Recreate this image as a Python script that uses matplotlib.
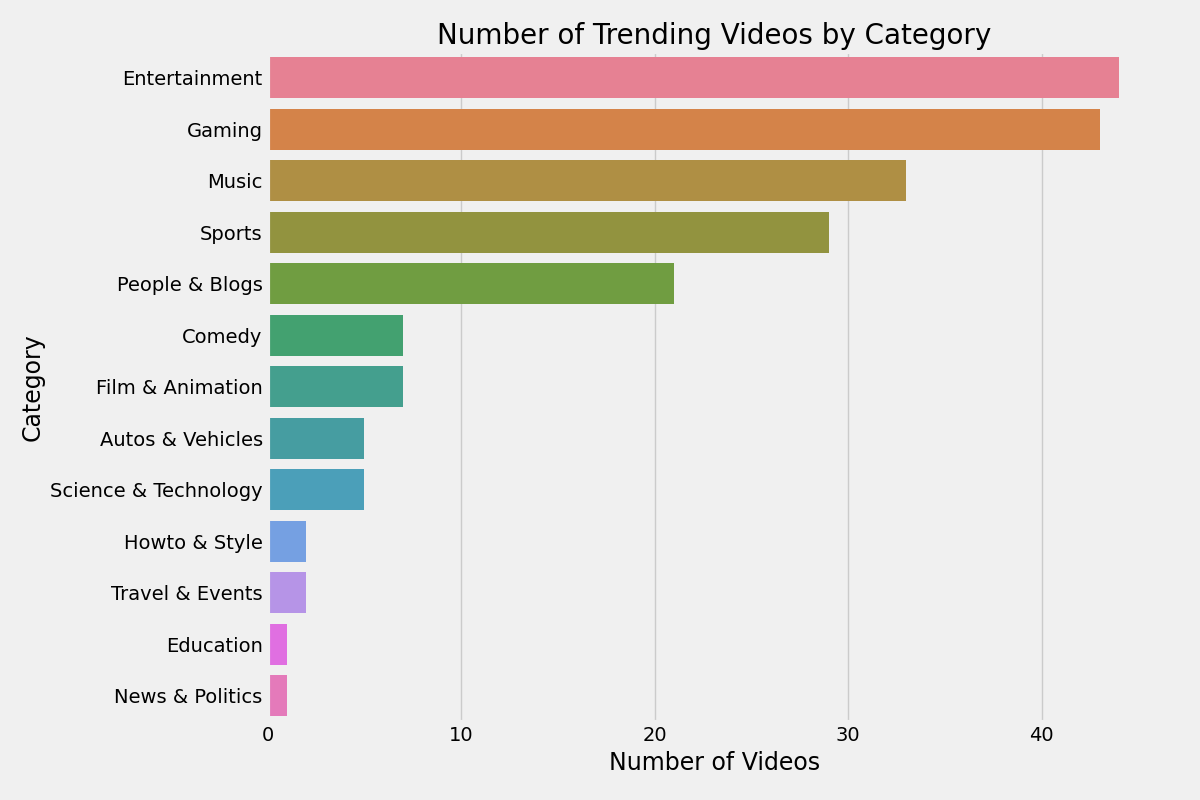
import matplotlib
matplotlib.use("Agg")
import matplotlib.pyplot as plt
import seaborn as sns

categories = ['Entertainment', 'Gaming', 'Music', 'Sports', 'People & Blogs',
              'Comedy', 'Film & Animation', 'Autos & Vehicles', 'Science & Technology',
              'Howto & Style', 'Travel & Events', 'Education', 'News & Politics']
counts = [44, 43, 33, 29, 21, 7, 7, 5, 5, 2, 2, 1, 1]

plt.style.use('fivethirtyeight')
fig, ax = plt.subplots(figsize=(12, 8), dpi=100)
fig.subplots_adjust(left=0.223, right=0.968, top=0.935, bottom=0.098)

sns.barplot(x=counts, y=categories, hue=categories, palette=sns.husl_palette(len(categories)),
            saturation=0.75, legend=False, ax=ax)

ax.set_title('Number of Trending Videos by Category', fontsize=20)
ax.set_xlabel('Number of Videos', fontsize=17)
ax.set_ylabel('Category', fontsize=17)
ax.tick_params(labelsize=14)
ax.grid(axis='y', visible=False)
ax.grid(axis='x', visible=True)
ax.set_axisbelow(True)

fig.savefig('out.png', dpi=100)
